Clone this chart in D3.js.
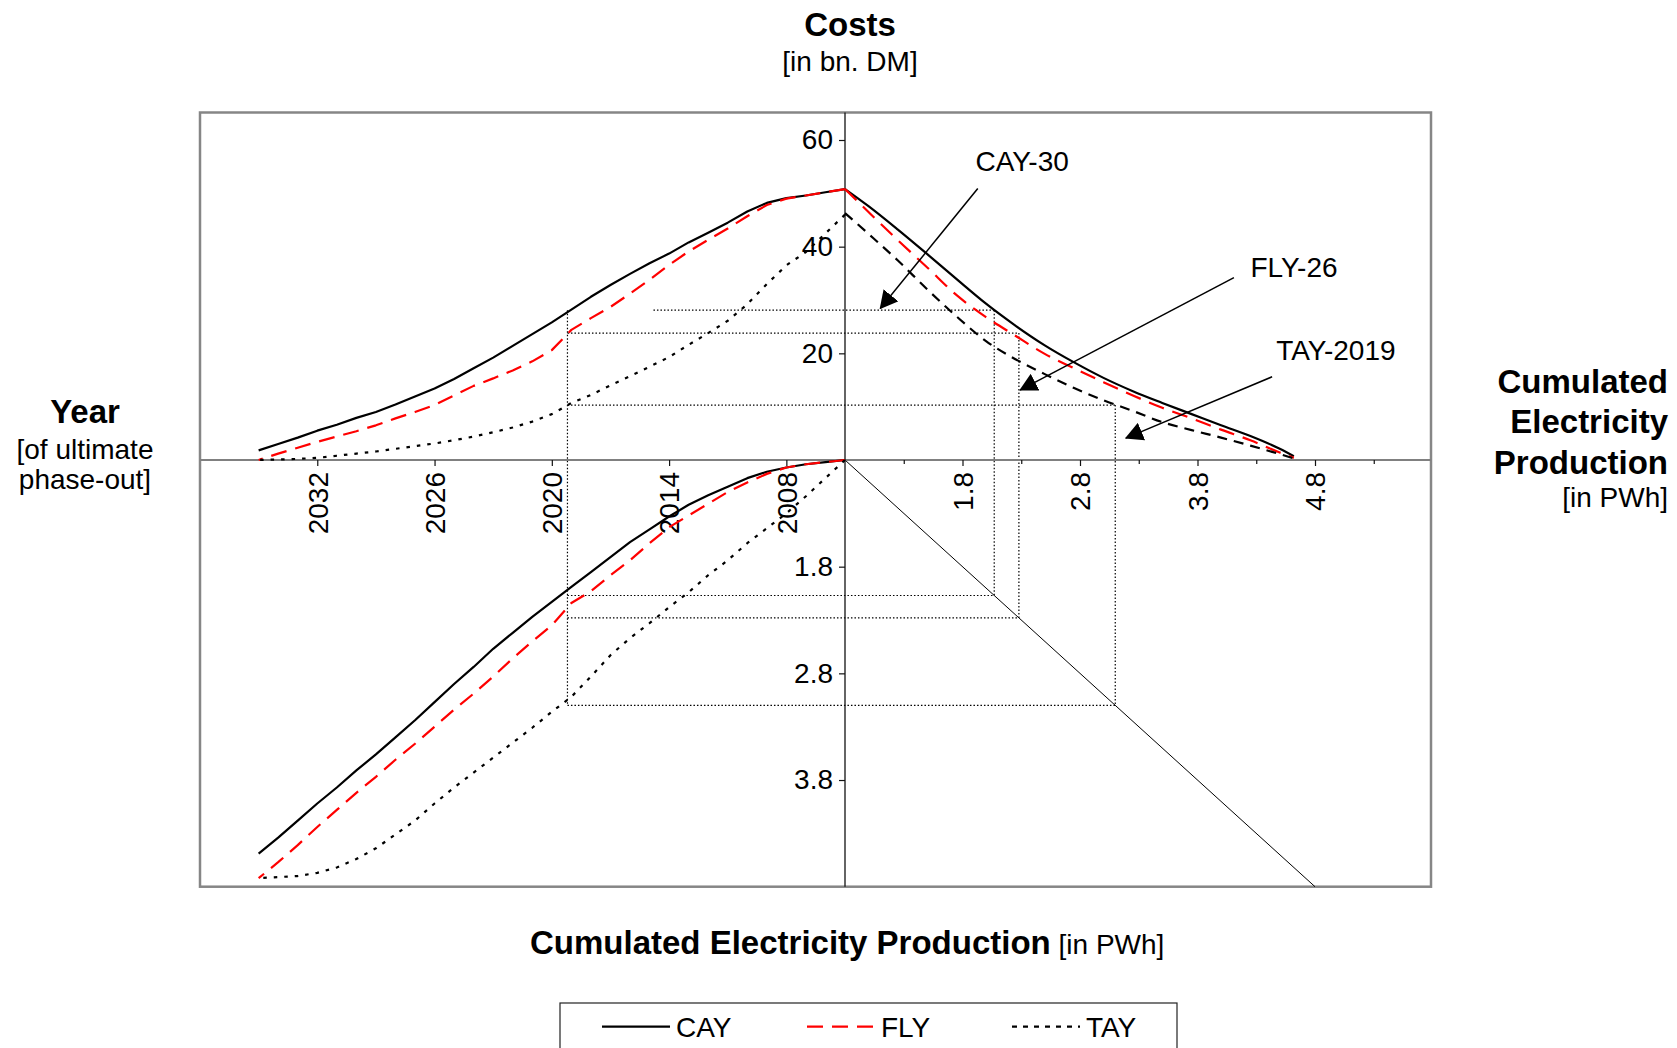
<!DOCTYPE html>
<html>
<head>
<meta charset="utf-8">
<script src="https://cdn.jsdelivr.net/npm/d3@7"></script>
<style>
  body { margin: 0; background: #fff; }
  text { font-family: "Liberation Sans", Arial, sans-serif; fill: #000; }
</style>
</head>
<body>
<div id="chart"></div>
<script>
// ########## data ##########
// year of ultimate phase-out (left half of the chart)
var years = [2005, 2006, 2007, 2008, 2009, 2010, 2011, 2012, 2013, 2014, 2015,
             2016, 2017, 2018, 2019, 2020, 2021, 2022, 2023, 2024, 2025,
             2026, 2027, 2028, 2029, 2030, 2031, 2032, 2033, 2034, 2035];

// costs [bn. DM] per phase-out year (upper left)
var cayCost = [50.8, 50.2, 49.6, 49.1, 48.2, 46.6, 44.5, 42.6, 40.8, 38.7, 36.9,
               34.9, 32.8, 30.6, 28.2, 25.8, 23.6, 21.4, 19.2, 17.2, 15.2,
               13.4, 11.9, 10.4, 9.0, 7.9, 6.6, 5.5, 4.2, 3.0, 1.8];
var flyCost = [50.8, 50.2, 49.6, 49.0, 47.8, 45.7, 43.4, 41.3, 39.1, 36.6, 33.8,
               31.2, 28.7, 26.6, 24.4, 20.6, 18.5, 16.8, 15.3, 13.9, 12.1,
               10.3, 9.0, 7.8, 6.5, 5.4, 4.4, 3.4, 2.3, 1.2, 0.0];
var tayCost = [46.0, 42.5, 39.0, 36.5, 33.0, 29.2, 26.1, 23.8, 21.6, 19.3, 17.5,
               15.7, 14.0, 12.2, 10.7, 8.6, 7.2, 6.1, 5.2, 4.4, 3.7,
               3.1, 2.6, 2.1, 1.6, 1.2, 0.8, 0.4, 0.2, 0.1, 0.0];

// cumulated electricity production [PWh] per phase-out year (lower left)
var cayPwh = [0.80, 0.82, 0.84, 0.87, 0.91, 0.97, 1.05, 1.13, 1.22, 1.33, 1.45,
              1.57, 1.71, 1.85, 1.99, 2.13, 2.27, 2.42, 2.57, 2.74, 2.90,
              3.07, 3.24, 3.40, 3.56, 3.71, 3.87, 4.02, 4.18, 4.34, 4.49];
var flyPwh = [0.80, 0.82, 0.84, 0.87, 0.93, 1.01, 1.10, 1.21, 1.32, 1.43, 1.58,
              1.74, 1.88, 2.03, 2.14, 2.35, 2.50, 2.66, 2.83, 2.99, 3.14,
              3.30, 3.46, 3.61, 3.77, 3.92, 4.08, 4.24, 4.41, 4.57, 4.72];
var tayPwh = [0.80, 0.97, 1.14, 1.30, 1.44, 1.58, 1.74, 1.88, 2.04, 2.18, 2.33,
              2.47, 2.63, 2.83, 3.02, 3.16, 3.31, 3.45, 3.59, 3.73, 3.87,
              4.02, 4.18, 4.31, 4.44, 4.54, 4.62, 4.67, 4.70, 4.71, 4.72];

// costs [bn. DM] against cumulated production [PWh] (upper right)
var pwhPoints = [0.8, 1.0, 1.25, 1.5, 1.75, 2.0, 2.25, 2.5, 2.75, 3.0, 3.25,
                 3.5, 3.75, 4.0, 4.25, 4.5, 4.62];
var cayCostByPwh = [50.8, 47.6, 43.2, 38.6, 33.9, 29.3, 25.2, 21.5, 18.3, 15.4, 12.9,
                    10.7, 8.6, 6.5, 4.5, 2.1, 0.7];
var flyCostByPwh = [50.8, 46.5, 41.2, 36.1, 30.9, 26.8, 23.3, 19.9, 17.2, 14.6, 12.1,
                    9.8, 7.8, 5.7, 3.7, 1.4, 0.4];
var tayCostByPwh = [46.3, 42.4, 37.4, 32.0, 26.9, 22.3, 18.9, 16.1, 13.5, 11.2, 9.2,
                    7.1, 5.6, 4.2, 2.7, 1.1, 0.3];

// tick labels
var yearTicks = [2008, 2014, 2020, 2026, 2032];
var pwhTicks = [1.8, 2.8, 3.8, 4.8];
var pwhMinorTicks = [1.3, 2.3, 3.3, 4.3, 5.3];
var costTicks = [20, 40, 60];
var pwhDownTicks = [1.8, 2.8, 3.8];

// example strategies marked with the dotted guide lines
var guideNames = ["CAY-30", "FLY-26", "TAY-2019"];
var guideYear = [2019.2, 2019.2, 2019.2];
var guideCost = [28.1, 23.8, 10.3];
var guidePwh = [2.07, 2.28, 3.1];
var guideCostFrom = [2014.8, 2019.2, 2019.2];

// arrow annotations: label position, line start and arrow tip in [PWh, bn. DM]
var noteText = [[1.91, 54.1], [4.25, 34.4], [4.47, 18.7]];
var noteFrom = [[1.93, 50.9], [4.11, 34.2], [4.435, 15.6]];
var noteTip = [[1.10, 28.4], [2.29, 13.1], [3.19, 4.1]];

var seriesNames = ["CAY", "FLY", "TAY"];

// ########## layout ##########
var width = 1677, height = 1048;
var frame = { left: 200, right: 1431, top: 112.5, bottom: 886.7 };
var ox = 845, oy = 460;   // crossing of the axes

var svg = d3.select("#chart").append("svg")
    .attr("width", width).attr("height", height)
    .attr("viewBox", `0 0 ${width} ${height}`);

// scales for the four quadrants
var xYear = d3.scaleLinear().domain([2005, 2038]).range([ox, frame.left]);
var xPwh = d3.scaleLinear().domain([0.8, 4.8]).range([ox, 1315]);
var yCost = d3.scaleLinear().domain([0, 60]).range([oy, 140]);
var yPwh = d3.scaleLinear().domain([0.8, 4.8]).range([oy, frame.bottom]);

// styles of the three series
var styles = {
    CAY:  { color: "#000", dash: null },
    FLY:  { color: "#ff0000", dash: "16,9" },
    TAYl: { color: "#000", dash: "3.5,7" },
    TAYr: { color: "#000", dash: "10,7" }
};

// plot frame
svg.append("rect")
    .attr("x", frame.left).attr("y", frame.top)
    .attr("width", frame.right - frame.left).attr("height", frame.bottom - frame.top)
    .attr("fill", "none").attr("stroke", "#868686").attr("stroke-width", 2.5);

// ########## guide lines ##########
var guides = svg.append("g")
    .attr("stroke", "#000").attr("stroke-width", 1.2)
    .attr("stroke-dasharray", "1.5,2").attr("fill", "none");

guideNames.forEach(function(name, i) {
    // costs level from the year side to the production side
    guides.append("line")
        .attr("x1", xYear(guideCostFrom[i])).attr("x2", xPwh(guidePwh[i]))
        .attr("y1", yCost(guideCost[i])).attr("y2", yCost(guideCost[i]));
    // production down to the 45 degree line
    guides.append("line")
        .attr("x1", xPwh(guidePwh[i])).attr("x2", xPwh(guidePwh[i]))
        .attr("y1", yCost(guideCost[i])).attr("y2", yPwh(guidePwh[i]));
    // production level back to the phase-out year
    guides.append("line")
        .attr("x1", xYear(guideYear[i])).attr("x2", xPwh(guidePwh[i]))
        .attr("y1", yPwh(guidePwh[i])).attr("y2", yPwh(guidePwh[i]));
});
// phase-out year
guides.append("line")
    .attr("x1", xYear(guideYear[0])).attr("x2", xYear(guideYear[0]))
    .attr("y1", yCost(d3.max(guideCost))).attr("y2", yPwh(d3.max(guidePwh)));

// 45 degree mirror line
svg.append("line")
    .attr("x1", xPwh(0.8)).attr("y1", yPwh(0.8))
    .attr("x2", xPwh(4.8)).attr("y2", yPwh(4.8))
    .attr("stroke", "#000").attr("stroke-width", 1);

// ########## axes ##########
svg.append("line")
    .attr("x1", frame.left).attr("x2", frame.right).attr("y1", oy).attr("y2", oy)
    .attr("stroke", "#808080").attr("stroke-width", 2);
svg.append("line")
    .attr("x1", ox).attr("x2", ox).attr("y1", frame.top).attr("y2", frame.bottom)
    .attr("stroke", "#111").attr("stroke-width", 1.3);

function styleAxis(g) {
    g.select(".domain").remove();
    g.selectAll(".tick line").attr("stroke", "#111").attr("stroke-width", 1.2);
    g.selectAll(".tick text")
        .style("font-family", '"Liberation Sans", Arial, sans-serif')
        .style("font-size", "28px").attr("fill", "#000");
}

function rotateLabels(g) {
    g.selectAll(".tick text")
        .attr("transform", "rotate(-90)")
        .attr("x", -12).attr("y", 0).attr("dy", "0.35em")
        .style("text-anchor", "end");
}

svg.append("g").attr("transform", `translate(${ox},0)`)
    .call(d3.axisLeft(yCost).tickValues(costTicks).tickSize(6).tickPadding(6))
    .call(styleAxis);

svg.append("g").attr("transform", `translate(${ox},0)`)
    .call(d3.axisLeft(yPwh).tickValues(pwhDownTicks).tickFormat(d3.format(".1f"))
        .tickSize(6).tickPadding(6))
    .call(styleAxis);

svg.append("g").attr("transform", `translate(0,${oy})`)
    .call(d3.axisBottom(xYear).tickValues(yearTicks).tickFormat(d3.format("d")).tickSize(6))
    .call(styleAxis).call(rotateLabels);

svg.append("g").attr("transform", `translate(0,${oy})`)
    .call(d3.axisBottom(xPwh).tickValues(pwhTicks).tickFormat(d3.format(".1f")).tickSize(6))
    .call(styleAxis).call(rotateLabels);

svg.append("g").attr("transform", `translate(0,${oy})`)
    .call(d3.axisBottom(xPwh).tickValues(pwhMinorTicks).tickFormat("").tickSize(4))
    .call(styleAxis);

// ########## curves ##########
var costByYear = d3.line().x((d, i) => xYear(years[i])).y(d => yCost(d));
var pwhByYear = d3.line().x((d, i) => xYear(years[i])).y(d => yPwh(d));
var costByPwh = d3.line().x((d, i) => xPwh(pwhPoints[i])).y(d => yCost(d))
    .curve(d3.curveMonotoneX);

var curves = [
    { data: cayCost, line: costByYear, style: styles.CAY },
    { data: cayPwh, line: pwhByYear, style: styles.CAY },
    { data: cayCostByPwh, line: costByPwh, style: styles.CAY },
    { data: flyCost, line: costByYear, style: styles.FLY },
    { data: flyPwh, line: pwhByYear, style: styles.FLY },
    { data: flyCostByPwh, line: costByPwh, style: styles.FLY },
    { data: tayCost, line: costByYear, style: styles.TAYl },
    { data: tayPwh, line: pwhByYear, style: styles.TAYl },
    { data: tayCostByPwh, line: costByPwh, style: styles.TAYr }
];

svg.append("g").selectAll("path")
    .data(curves).enter()
    .append("path")
    .attr("d", d => d.line(d.data))
    .attr("fill", "none")
    .attr("stroke", d => d.style.color)
    .attr("stroke-width", 2.2)
    .attr("stroke-dasharray", d => d.style.dash)
    .attr("stroke-linejoin", "round");

// ########## arrow annotations ##########
svg.append("defs").append("marker")
    .attr("id", "arrow")
    .attr("viewBox", "0 -9.5 18 19")
    .attr("refX", 17).attr("refY", 0)
    .attr("markerUnits", "userSpaceOnUse")
    .attr("markerWidth", 18).attr("markerHeight", 19)
    .attr("orient", "auto")
    .append("path").attr("d", "M0,-9.5L18,0L0,9.5Z").attr("fill", "#000");

guideNames.forEach(function(name, i) {
    svg.append("line")
        .attr("x1", xPwh(noteFrom[i][0])).attr("y1", yCost(noteFrom[i][1]))
        .attr("x2", xPwh(noteTip[i][0])).attr("y2", yCost(noteTip[i][1]))
        .attr("stroke", "#000").attr("stroke-width", 1.5)
        .attr("marker-end", "url(#arrow)");
    svg.append("text")
        .attr("x", xPwh(noteText[i][0])).attr("y", yCost(noteText[i][1]))
        .style("font-size", "28px")
        .text(name);
});

// ########## titles ##########
function addLines(x, anchor, lines) {
    lines.forEach(function(l) {
        svg.append("text")
            .attr("x", x).attr("y", l.y)
            .attr("text-anchor", anchor)
            .style("font-size", l.bold ? "33px" : "28px")
            .style("font-weight", l.bold ? "bold" : "normal")
            .text(l.t);
    });
}

addLines(850, "middle", [
    { t: "Costs", y: 36, bold: true },
    { t: "[in bn. DM]", y: 71 }
]);
addLines(85, "middle", [
    { t: "Year", y: 423, bold: true },
    { t: "[of ultimate", y: 459 },
    { t: "phase-out]", y: 489 }
]);
addLines(1668, "end", [
    { t: "Cumulated", y: 393, bold: true },
    { t: "Electricity", y: 433, bold: true },
    { t: "Production", y: 474, bold: true },
    { t: "[in PWh]", y: 507 }
]);

var bottomTitle = svg.append("text").attr("x", 530).attr("y", 954);
bottomTitle.append("tspan").style("font-size", "33px").style("font-weight", "bold")
    .text("Cumulated Electricity Production");
bottomTitle.append("tspan").style("font-size", "28px").text(" [in PWh]");

// ########## legend ##########
var legend = svg.append("g");
legend.append("rect")
    .attr("x", 560).attr("y", 1003).attr("width", 617).attr("height", 60)
    .attr("fill", "#fff").attr("stroke", "#222").attr("stroke-width", 1.2);

var legendDash = [null, "16,9", "5,6"];
var legendColor = ["#000", "#ff0000", "#000"];
seriesNames.forEach(function(name, i) {
    var lx = 602 + i * 205;
    legend.append("line")
        .attr("x1", lx).attr("x2", lx + 68)
        .attr("y1", 1026.7).attr("y2", 1026.7)
        .attr("stroke", legendColor[i]).attr("stroke-width", 2.2)
        .attr("stroke-dasharray", legendDash[i]);
    legend.append("text")
        .attr("x", lx + 74).attr("y", 1036.7)
        .style("font-size", "28px")
        .text(name);
});
</script>
</body>
</html>
